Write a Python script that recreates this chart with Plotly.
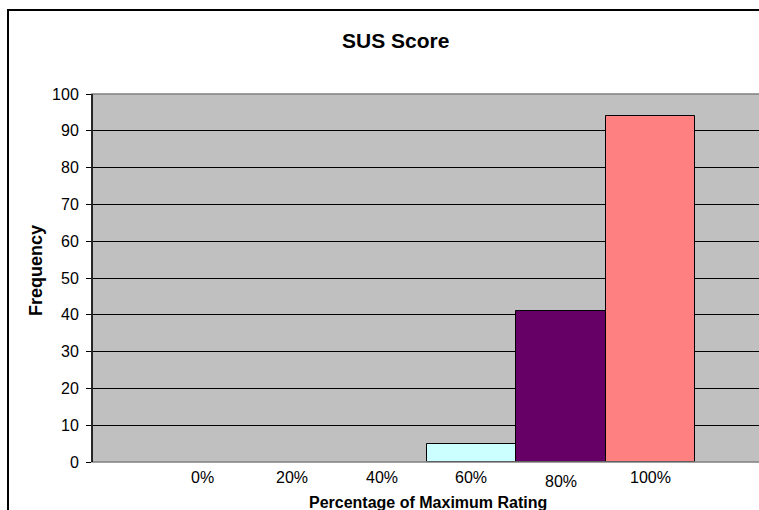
import plotly.graph_objects as go

categories = ["0%", "20%", "40%", "60%", "80%", "100%"]
frequency = [0, 0, 0, 5, 41, 94]
bar_colors = ["#CCFFFF", "#CCFFFF", "#CCFFFF", "#CCFFFF", "#660066", "#FF8080"]
y_ticks = list(range(0, 101, 10))

W, H = 759, 510
L, R, T, B = 92, 0, 94, 48
pw = W - L - R
ph = H - T - B

xs = [i for i, v in enumerate(frequency) if v > 0]
ys = [frequency[i] for i in xs]
cs = [bar_colors[i] for i in xs]

fig = go.Figure()
fig.add_trace(go.Bar(
    x=xs, y=ys, width=1.0,
    marker=dict(color=cs, line=dict(color="#000000", width=1)),
    hoverinfo="x+y",
))

font_family = "Liberation Sans, Arial, sans-serif"

annotations = []
for i, c in enumerate(categories):
    annotations.append(dict(
        x=i, xref="x", y=0, yref="paper", yanchor="middle", xanchor="center",
        yshift=-15.5 if c != "80%" else -19.5, text=c, showarrow=False,
        font=dict(family=font_family, size=16, color="#000000"),
    ))

annotations.append(dict(
    x=(427.5 - L) / pw, xref="paper", y=(462 - 503) / ph, yref="paper",
    xanchor="center", yanchor="middle", showarrow=False,
    text="<b>Percentage of Maximum Rating</b>",
    font=dict(family=font_family, size=16, color="#000000"),
))
annotations.append(dict(
    x=(36 - L) / pw, xref="paper", y=(462 - 271) / ph, yref="paper",
    xanchor="center", yanchor="middle", showarrow=False, textangle=-90,
    text="<b>Frequency</b>",
    font=dict(family=font_family, size=18, color="#000000"),
))
annotations.append(dict(
    x=(395.5 - L) / pw, xref="paper", y=(462 - 41) / ph, yref="paper",
    xanchor="center", yanchor="middle", showarrow=False,
    text="<b>SUS Score</b>",
    font=dict(family=font_family, size=21, color="#000000"),
))

shapes = [
    # plot area border (gray)
    dict(type="rect", xref="paper", yref="paper", x0=0, x1=1.2, y0=0, y1=1,
         line=dict(color="#808080", width=1.5), fillcolor="rgba(0,0,0,0)", layer="above"),
    # left axis line (black)
    dict(type="line", xref="paper", yref="paper", x0=0, x1=0, y0=0, y1=1,
         line=dict(color="#000000", width=1.5), layer="above"),
    # outer chart border
    dict(type="rect", xref="paper", yref="paper",
         x0=(8 - L) / pw, x1=1.3, y0=(462 - 530) / ph, y1=(462 - 10) / ph,
         line=dict(color="#000000", width=2), fillcolor="rgba(0,0,0,0)", layer="above"),
]

fig.update_layout(
    width=W, height=H,
    margin=dict(l=L, r=R, t=T, b=B, pad=0),
    paper_bgcolor="#FFFFFF",
    plot_bgcolor="#C0C0C0",
    showlegend=False,
    bargap=0,
    annotations=annotations,
    shapes=shapes,
    font=dict(family=font_family, size=16, color="#000000"),
    xaxis=dict(
        range=[-1.24, 6.215], showticklabels=False, ticks="", showgrid=False,
        zeroline=False, showline=False, fixedrange=True,
    ),
    yaxis=dict(
        range=[0, 100], tickvals=y_ticks, ticks="outside", ticklen=5,
        tickcolor="#000000", tickwidth=1, showgrid=True, gridcolor="#000000",
        gridwidth=1, zeroline=False, showline=False, ticklabelstandoff=4,
        tickfont=dict(family=font_family, size=16, color="#000000"),
        fixedrange=True,
    ),
)

fig.write_html(
    "out.html",
    config={"displayModeBar": False},
    post_script="document.body.style.margin='0';document.body.style.overflow='hidden';",
)
